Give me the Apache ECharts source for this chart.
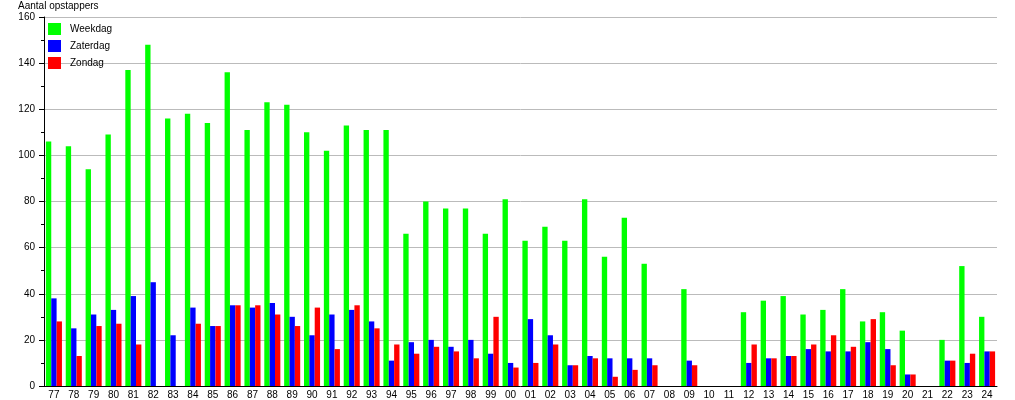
<!DOCTYPE html>
<html>
<head>
<meta charset="utf-8">
<script src="https://cdn.jsdelivr.net/npm/echarts@6/dist/echarts.min.js"></script>
<style>html,body{margin:0;padding:0;background:#fff}#c{width:1015px;height:400px}</style>
</head>
<body>
<div id="c"></div>
<script>
const categories = ['77','78','79','80','81','82','83','84','85','86','87','88','89','90','91','92','93','94','95','96','97','98','99','00','01','02','03','04','05','06','07','08','09','10','11','12','13','14','15','16','17','18','19','20','21','22','23','24'];
const weekdag = [106,104,94,109,137,148,116,118,114,136,111,123,122,110,102,113,111,111,66,80,77,77,66,81,63,69,63,81,56,73,53,null,42,null,null,32,37,39,31,33,42,28,32,24,null,20,52,30];
const zaterdag = [38,25,31,33,39,45,22,34,26,35,34,36,30,22,31,33,28,11,19,20,17,20,14,10,29,22,9,13,12,12,12,null,11,null,null,10,12,13,16,15,15,19,16,5,null,11,10,15];
const zondag = [28,13,26,27,18,null,null,27,26,35,35,31,26,34,16,35,25,18,14,17,15,12,30,8,10,18,9,12,4,7,9,null,9,null,null,18,12,13,18,22,17,29,9,5,null,11,14,15];
const seriesNames = ['Weekdag','Zaterdag','Zondag'];
const yTitle = 'Aantal opstappers';

const font = 'Liberation Sans, Arial, sans-serif';
const chart = echarts.init(document.getElementById('c'), null, {renderer:'canvas'});
chart.setOption({
  animation: false,
  backgroundColor: '#fff',
  title: { text: yTitle, left: 18, top: 1, padding: 0, textStyle: { fontFamily: font, fontSize: 10, fontWeight: 'normal', color: '#000' } },
  legend: {
    orient: 'vertical', left: 48, top: 23, padding: 0, itemWidth: 13, itemHeight: 12, itemGap: 5,
    icon: 'rect', textStyle: { fontFamily: font, fontSize: 10, color: '#000', padding: [0,0,0,4] },
    data: seriesNames
  },
  grid: { left: 44, right: 18, top: 17, bottom: 13, containLabel: false },
  xAxis: {
    type: 'category', data: categories, boundaryGap: true,
    axisLine: { lineStyle: { color: '#000', width: 1 } },
    axisTick: { show: false },
    axisLabel: { interval: 0, color: '#000', fontFamily: font, fontSize: 10, margin: 4 }
  },
  yAxis: {
    type: 'value', min: 0, max: 160, interval: 20,
    axisLine: { show: true, lineStyle: { color: '#000', width: 1 } },
    axisTick: { show: true, length: 5, lineStyle: { color: '#000' } },
    minorTick: { show: true, splitNumber: 2, length: 3, lineStyle: { color: '#000' } },
    splitLine: { show: true, lineStyle: { color: '#bbbbbb', width: 1 } },
    axisLabel: { color: '#000', fontFamily: font, fontSize: 10, margin: 9 }
  },
  series: [
    { name: seriesNames[0], type: 'bar', data: weekdag, barWidth: 5.35, barGap: '0%', itemStyle: { color: '#00ff00' } },
    { name: seriesNames[1], type: 'bar', data: zaterdag, barWidth: 5.35, barGap: '0%', itemStyle: { color: '#0000ff' } },
    { name: seriesNames[2], type: 'bar', data: zondag, barWidth: 5.35, barGap: '0%', itemStyle: { color: '#ff0000' } }
  ]
});
</script>
</body>
</html>
